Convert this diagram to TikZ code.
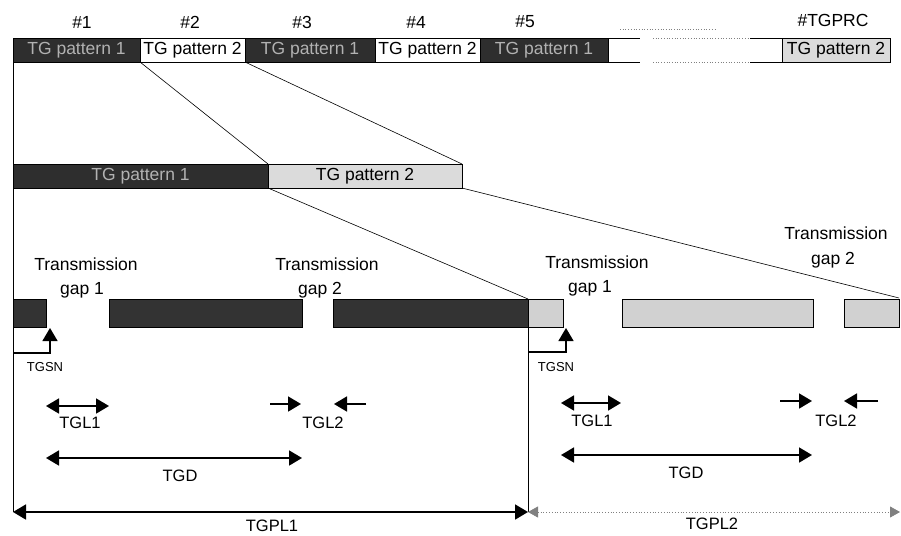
\documentclass[tikz,border=0pt]{standalone}
\usepackage{fontspec}
\setmainfont{Liberation Sans}
\usetikzlibrary{arrows.meta,positioning}

\begin{document}
\begin{tikzpicture}[
    x=1pt, y=-1pt,
    font=\fontsize{17.5}{20}\selectfont,
    node distance=0pt,
    patbox/.style={draw, line width=0.9pt, inner sep=0pt, outer sep=0pt, minimum height=24pt, anchor=north west},
    dark/.style={patbox, fill=black!82, text=white!70!black},
    pale/.style={patbox, fill=black!14},
    blank/.style={patbox, fill=white},
    bar/.style={draw, line width=0.9pt, inner sep=0pt, outer sep=0pt, minimum height=28pt, anchor=north west},
    darkbar/.style={bar, fill=black!80},
    palebar/.style={bar, fill=black!18},
    lbl/.style={inner sep=1pt},
    small/.style={lbl, font=\fontsize{13}{15}\selectfont},
    mid/.style={lbl, font=\fontsize{16.5}{19}\selectfont},
    zoomline/.style={line width=0.6pt},
    tip/.style={line width=1.8pt, -{Triangle[length=13pt, width=15pt]}},
    both/.style={line width=1.8pt, {Triangle[length=13pt, width=15pt]}-{Triangle[length=13pt, width=15pt]}},
    faint/.style={gray, line width=0.8pt, dotted, {Triangle[length=10pt, width=11pt]}-{Triangle[length=10pt, width=11pt]}}
]
\useasboundingbox (0,0) rectangle (901,535);

% top row of TG patterns
\node[dark, minimum width=127pt] (p1) at (13,38) {TG pattern 1};
\node[blank, minimum width=105pt, right=of p1] (p2) {TG pattern 2};
\node[dark, minimum width=130pt, right=of p2] (p3) {TG pattern 1};
\node[blank, minimum width=105pt, right=of p3] (p4) {TG pattern 2};
\node[dark, minimum width=128pt, right=of p4] (p5) {TG pattern 1};
\node[pale, minimum width=108pt] (pn) at (782,38) {TG pattern 2};

\node[lbl] (n1) at (82,22) {\#1};
\node[lbl] (n2) at (190,22) {\#2};
\node[lbl] (n3) at (302,22) {\#3};
\node[lbl] (n4) at (416,22) {\#4};
\node[lbl] (n5) at (525,22) {\#5};
\node[lbl] (nn) at (833,20) {\#TGPRC};

% continuation of the row
\coordinate (e1) at (640,38);
\coordinate (e2) at (640,62);
\coordinate (d1) at (653,38);
\coordinate (d2) at (750,38);
\coordinate (d3) at (653,62);
\coordinate (d4) at (750,62);
\draw[line width=0.6pt] (p5.north east) -- (e1);
\draw[line width=0.6pt] (p5.south east) -- (e2);
\draw[gray, dotted, line width=0.7pt] (d1) -- (d2);
\draw[gray, dotted, line width=0.7pt] (d3) -- (d4);
\draw[line width=0.6pt] (d2) -- (pn.north west);
\draw[line width=0.6pt] (d4) -- (pn.south west);
\coordinate (u1) at (620,29);
\coordinate (u2) at (715,29);
\draw[gray, dotted, line width=0.7pt] (u1) -- (u2);

% zoomed pair of patterns
\node[dark, minimum width=255pt] (z1) at (13,164) {TG pattern 1};
\node[pale, minimum width=194pt, right=of z1] (z2) {TG pattern 2};
\draw[zoomline] (p2.south west) -- (z2.north west);
\draw[zoomline] (p3.south west) -- (z2.north east);

% transmission gap slots
\node[darkbar, minimum width=33pt] (b1) at (13,299) {};
\node[darkbar, minimum width=193pt] (b2) at (109,299) {};
\node[darkbar, minimum width=195pt] (b3) at (333,299) {};
\node[palebar, minimum width=35pt] (b4) at (528,299) {};
\node[palebar, minimum width=191pt] (b5) at (622,299) {};
\node[palebar, minimum width=55pt] (b6) at (844,299) {};
\coordinate (r6) at (899,298);
\draw[zoomline] (z2.south west) -- (b4.north west);
\draw[zoomline] (z2.south east) -- (r6);

\node[lbl] (t1) at (86,264) {Transmission};
\node[lbl] (g1) at (82,290) {gap 1};
\node[lbl] (t2) at (327,264) {Transmission};
\node[lbl] (g2) at (320,290) {gap 2};
\node[lbl] (t3) at (597,262) {Transmission};
\node[lbl] (g3) at (590,288) {gap 1};
\node[lbl] (t4) at (836,233) {Transmission};
\node[lbl] (g4) at (833,260) {gap 2};

% pattern borders
\coordinate (v1) at (13,512);
\coordinate (v2) at (528,512);
\draw[line width=0.6pt] (p1.south west) -- (v1);
\draw[line width=0.6pt] (b4.south west) -- (v2);

% TGSN
\coordinate (s1) at (13,353);
\coordinate (s1t) at (50,328);
\coordinate (s2) at (528,352);
\coordinate (s2t) at (566,328);
\draw[tip, line width=1.3pt] (s1) -| (s1t);
\draw[tip, line width=1.3pt] (s2) -| (s2t);
\node[small] (sn1) at (45,367) {TGSN};
\node[small] (sn2) at (556,367) {TGSN};

% lengths, first pattern
\coordinate (a1) at (46,406);
\coordinate (a2) at (109,406);
\draw[both] (a1) -- (a2);
\node[mid] (l1) at (80,423) {TGL1};
\coordinate (a3) at (270,404);
\coordinate (a4) at (301,404);
\coordinate (a5) at (366,404);
\coordinate (a6) at (334,404);
\draw[tip] (a3) -- (a4);
\draw[tip] (a5) -- (a6);
\node[mid] (l2) at (323,423) {TGL2};
\coordinate (a7) at (46,458);
\coordinate (a8) at (302,458);
\draw[both] (a7) -- (a8);
\node[mid] (ld) at (180,476) {TGD};
\draw[both] (v1) -- (v2);
\node[mid] (lp1) at (272,526) {TGPL1};

% lengths, second pattern
\coordinate (c1) at (561,403);
\coordinate (c2) at (621,403);
\draw[both] (c1) -- (c2);
\node[mid] (m1) at (592,421) {TGL1};
\coordinate (c3) at (780,401);
\coordinate (c4) at (812,401);
\coordinate (c5) at (878,401);
\coordinate (c6) at (844,401);
\draw[tip] (c3) -- (c4);
\draw[tip] (c5) -- (c6);
\node[mid] (m2) at (836,421) {TGL2};
\coordinate (c7) at (561,455);
\coordinate (c8) at (812,455);
\draw[both] (c7) -- (c8);
\node[mid] (md) at (686,473) {TGD};
\coordinate (w2) at (900,512);
\draw[faint] (v2) -- (w2);
\node[mid] (mp2) at (712,524) {TGPL2};
\end{tikzpicture}
\end{document}
